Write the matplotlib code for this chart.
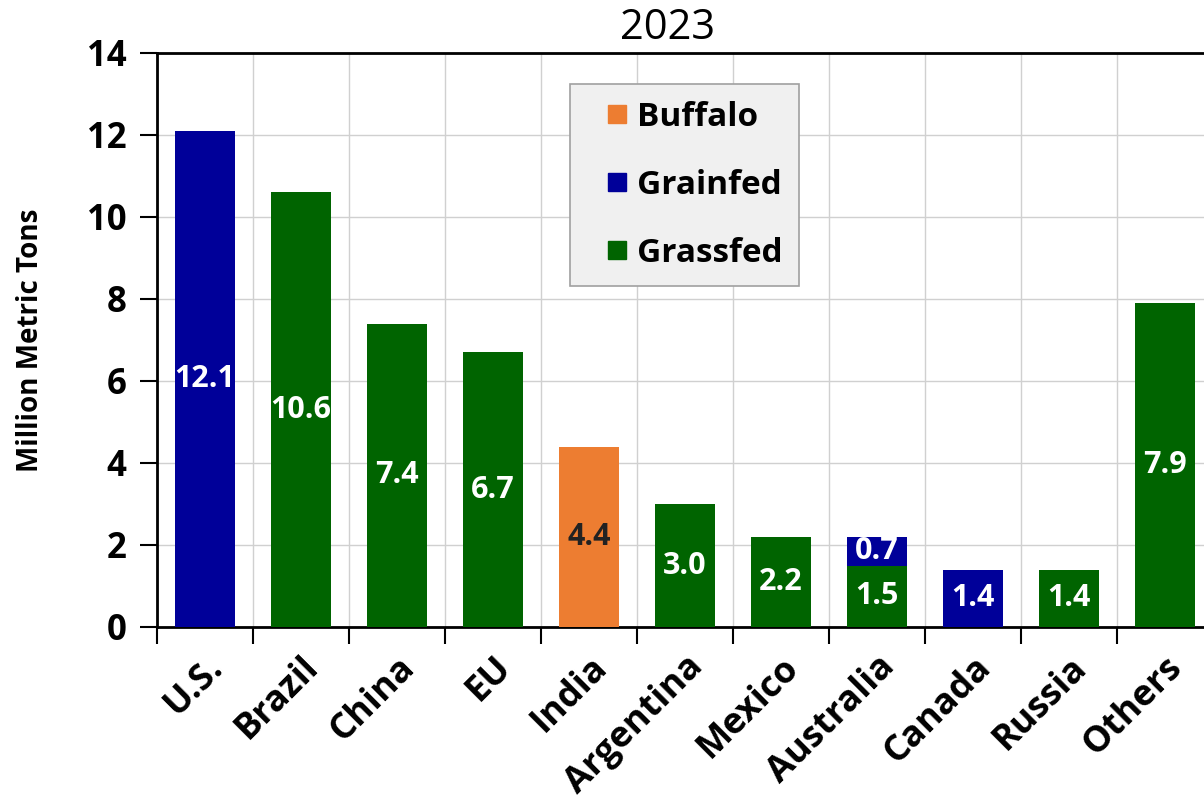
import numpy as np
import matplotlib.pyplot as plt
import matplotlib.transforms as mtransforms
from matplotlib.lines import Line2D

# beef production 2023, million metric tons
countries = ['U.S.', 'Brazil', 'China', 'EU', 'India', 'Argentina',
             'Mexico', 'Australia', 'Canada', 'Russia', 'Others']
grassfed = [0, 10.6, 7.4, 6.7, 0, 3.0, 2.2, 1.5, 0, 1.4, 7.9]
grainfed = [12.1, 0, 0, 0, 0, 0, 0, 0.7, 1.4, 0, 0]
buffalo = [0, 0, 0, 0, 4.4, 0, 0, 0, 0, 0, 0]

c_grass = '#006400'
c_grain = '#000099'
c_buff = '#ED7D31'

plt.rcParams['font.family'] = ['Open Sans', 'DejaVu Sans']

fig = plt.figure(figsize=(12.04, 8.09), dpi=100)
ax = fig.add_axes([157/1204, 182/809, 1056/1204, 574/809])

x = np.arange(len(countries))
w = 0.625
grass = np.array(grassfed)
grain = np.array(grainfed)
buff = np.array(buffalo)

ax.bar(x, grass, w, color=c_grass, zorder=3)
ax.bar(x, grain, w, bottom=grass, color=c_grain, zorder=3)
ax.bar(x, buff, w, bottom=grass + grain, color=c_buff, zorder=3)

# value labels in the middle of each segment
for i in x:
    base = 0
    for val, col in [(grass[i], 'white'), (grain[i], 'white'), (buff[i], '#222222')]:
        if val > 0:
            ax.text(i, base + val/2, f'{val:.1f}', ha='center', va='center',
                    color=col, fontsize=22, fontweight='bold', zorder=4)
        base += val

ax.set_xlim(-0.5, 10.5)
ax.set_ylim(0, 14)
ax.set_yticks(np.arange(0, 15, 2))
ax.set_xticks(np.arange(-0.5, 11, 1))
ax.set_xticklabels([])
ax.set_xticks(x, minor=True)
ax.set_xticklabels(countries, minor=True, rotation=45, ha='right',
                   rotation_mode='anchor', fontsize=26, fontweight='bold')
# nudge the slanted labels a little to the right
shift = mtransforms.ScaledTranslation(12/100, 0, fig.dpi_scale_trans)
for lab in ax.get_xticklabels(minor=True):
    lab.set_transform(lab.get_transform() + shift)
ax.tick_params(axis='x', which='minor', length=0, pad=16)
ax.tick_params(axis='x', which='major', length=12, width=1.5, direction='out')
ax.tick_params(axis='y', length=12, width=1.5, direction='out', labelsize=25, pad=10)
for lab in ax.get_yticklabels():
    lab.set_fontweight('bold')

ax.grid(True, which='major', color='#d0d0d0', lw=1, zorder=0)
for s in ['left', 'bottom', 'top']:
    ax.spines[s].set_linewidth(2)
ax.spines['right'].set_visible(False)

ax.set_ylabel('Million Metric Tons', fontsize=20, fontweight='bold', labelpad=30)
fig.text(668/1204, 1 - 28/809, '2023', ha='center', va='center', fontsize=30)

handles = [Line2D([], [], ls='none', marker='s', ms=13.5, color=c, label=l)
           for c, l in [(c_buff, 'Buffalo'), (c_grain, 'Grainfed'), (c_grass, 'Grassfed')]]
leg = ax.legend(handles=handles, loc='upper left', bbox_to_anchor=(413/1056, 1 - 31/574),
                fancybox=False, framealpha=1, facecolor='#f0f0f0', edgecolor='#a0a0a0',
                prop={'size': 24, 'weight': 'bold'}, handlelength=1.8,
                handletextpad=-0.3, labelspacing=1.05, borderpad=0.5, borderaxespad=0)
leg.get_frame().set_linewidth(1.2)

plt.savefig('out.png', dpi=100)
plt.close()
